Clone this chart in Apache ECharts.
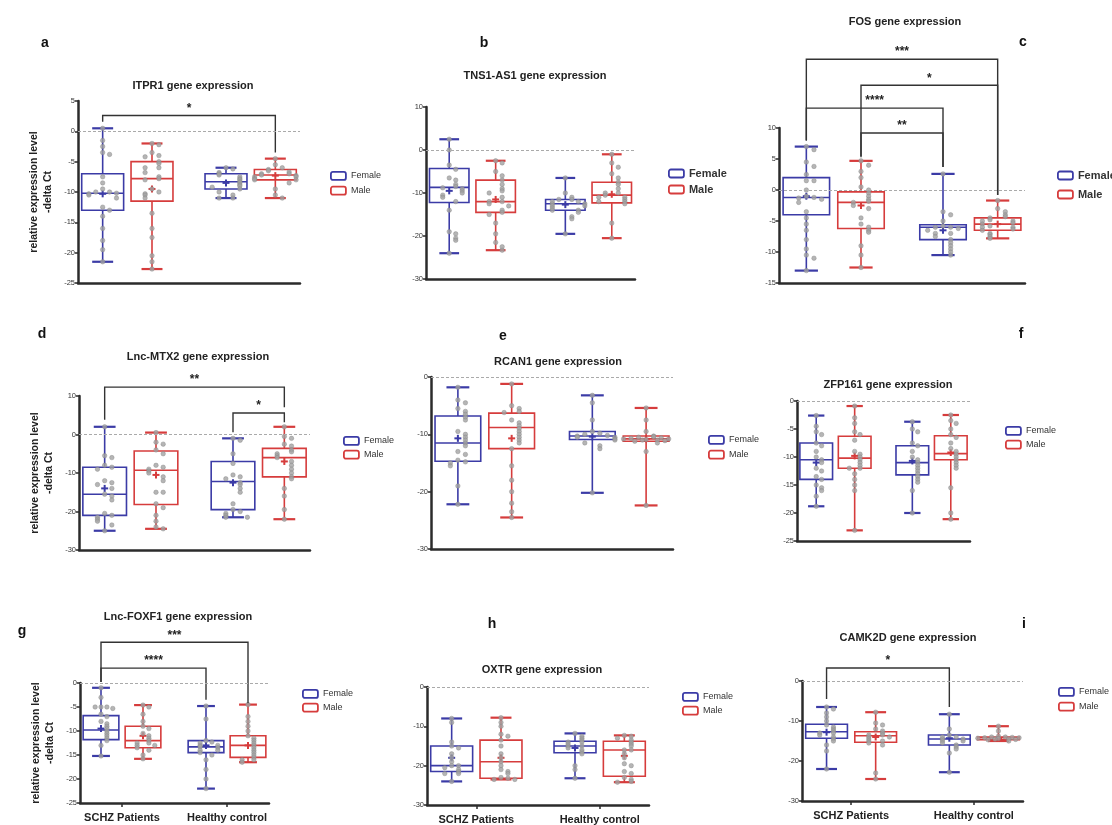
<!DOCTYPE html>
<html><head><meta charset="utf-8">
<script src="https://cdn.jsdelivr.net/npm/echarts@6/dist/echarts.min.js"></script>
<style>html,body{margin:0;padding:0;background:#fff}#c{width:1112px;height:825px}</style>
</head><body><div id="c"></div>
<script>
// ---------- DATA ----------
const groupNames = ['SCHZ Patients', 'Healthy control'];
const sexNames = ['Female', 'Male'];

// each box row: [min, q1, median, q3, max, mean]  order: F-SCHZ, M-SCHZ, F-HC, M-HC
const ITPR1_F_SCHZ = [0.5,-1.5,-2.5,-3.8,-3.5,-7.5,-8.5,-9.5,-10,-10.2,-10.3,-10.5,-10,-11,-12.5,-13,-14,-16,-18,-19.5,-21.5];
const ITPR1_M_SCHZ = [-2,-2.2,-3.5,-4,-4.2,-5,-5.3,-6,-6,-6.8,-7.5,-7.8,-8,-9.5,-10,-10.3,-10.5,-11,-13.5,-16,-17.5,-20.5,-21.5,-22.7];
const ITPR1_F_HC = [-6,-6.2,-6.8,-7,-7.2,-7.5,-7.8,-8,-8.3,-8.5,-8.8,-9,-9.2,-9.5,-10,-10.5,-11,-11];
const ITPR1_M_HC = [-4.5,-5.5,-6,-6.3,-6.5,-6.7,-7,-7,-7.2,-7.3,-7.5,-7.5,-7.8,-8,-8,-8.5,-9.5,-10.5,-11];
const ITPR1_box = [[-21.5,-13,-10.2,-7,0.5,-10.3],[-22.7,-11.5,-7.8,-5,-2,-9.5],[-11,-9.5,-8.3,-7,-6,-8.5],[-11,-8,-7.2,-6.3,-4.5,-7.3]];
const ITPR1_ticks = [-25, 5, 5];
const ITPR1_sig = [[0,3,2.6,1.6,-3.5]];
const ITPR1_sigLabels = ['*'];

const TNS1_F_SCHZ = [2.5,0,-3.5,-4.5,-6.5,-7,-8,-8.5,-8.8,-9,-9.5,-10,-10.5,-11,-12,-14,-19,-19.5,-20.5,-21,-24];
const TNS1_M_SCHZ = [-2.5,-3,-5,-6,-7,-8,-9,-9.5,-10,-11,-12,-12,-12.5,-13,-14,-14.5,-15,-17,-19.5,-21.5,-22.5,-23.3];
const TNS1_F_HC = [-6.5,-10,-11,-11.5,-11.5,-12,-12,-12.5,-12.5,-13,-13,-13.5,-14,-14,-14.5,-15.5,-16,-19.5];
const TNS1_M_HC = [-1,-3,-4,-5.5,-6.5,-7.5,-8,-9,-10,-10,-10.5,-11,-11,-11.5,-12,-12,-12.5,-17,-20.5];
const TNS1_box = [[-24,-12.2,-8.7,-4.3,2.5,-9.5],[-23.3,-14.5,-12,-7,-2.5,-11.5],[-19.5,-14,-12.5,-11.5,-6.5,-12.7],[-20.5,-12.3,-10.5,-7.5,-1,-10.3]];
const TNS1_ticks = [-30, 10, 10];
const TNS1_sig = [];
const TNS1_sigLabels = [];

const FOS_F_SCHZ = [7,6.5,4.5,3.8,2.5,1.5,1.5,0,-1,-1.2,-1.3,-1.5,-2,-3.5,-4.5,-5.5,-6.5,-8,-9.5,-10.5,-11,-13];
const FOS_M_SCHZ = [4.7,4,3,2,0.5,0,-0.5,-1,-1.5,-1.8,-2,-2.5,-3,-4.5,-5.5,-6,-6.5,-6.8,-9,-10.5,-12.5];
const FOS_F_HC = [2.6,-3.5,-4,-5,-5.8,-6,-6,-6.2,-6.5,-7,-7,-7.5,-8,-8.5,-9,-9.5,-10,-10.5];
const FOS_M_HC = [-1.7,-3,-3.5,-4,-4.3,-4.5,-4.8,-5,-5,-5.3,-5.5,-5.8,-6,-6,-6.3,-6.5,-7,-7.2,-7.5,-7.8];
const FOS_box = [[-13,-4,-1.2,2,7,-1],[-12.5,-6.2,-2,-0.3,4.7,-2.5],[-10.5,-8,-6,-5.6,2.6,-6.5],[-7.8,-6.5,-5.5,-4.5,-1.7,-5.5]];
const FOS_ticks = [-15, 10, 5];
const FOS_sig = [[0,3,21.1,8,-0.8],[1,3,16.9,5.5,-0.8],[0,2,13.2,8,3.7],[1,2,9.2,5.3,3.7]];
const FOS_sigLabels = ['***','*','****','**'];

const MTX2_F_SCHZ = [2,-5.5,-6,-8,-8.5,-9,-12,-12.5,-13,-14,-15.5,-16,-17,-20.5,-21,-21.5,-22,-22.5,-23.5,-25];
const MTX2_M_SCHZ = [0.5,-2,-2.5,-4,-5,-8,-8.5,-9,-9.5,-10,-11,-12,-15,-15,-18,-19,-21,-22.5,-24,-24.5];
const MTX2_F_HC = [-1,-1.5,-5,-7.5,-10.5,-11,-11.5,-12.5,-13,-14,-15,-18,-19.5,-20,-20.5,-21,-21.5,-21.5];
const MTX2_M_HC = [2,-0.5,-1,-2.5,-3,-4,-4.5,-5,-5.5,-6,-7,-8,-9,-10,-11,-11.5,-14,-16,-19.5,-22];
const MTX2_box = [[-25,-21,-15.5,-8.5,2,-14],[-24.5,-18.2,-9.3,-4.3,0.5,-10.5],[-21.5,-19.5,-12.2,-7,-1,-12.5],[-22,-11,-6,-3.6,2,-7]];
const MTX2_ticks = [-30, 10, 10];
const MTX2_sig = [[0,3,12.3,3.8,7.1],[2,3,5.6,0.6,3.2]];
const MTX2_sigLabels = ['**','*'];

const RCAN1_F_SCHZ = [-1.8,-4,-4.5,-5.5,-6,-6.5,-7,-7.5,-9.5,-10,-10.5,-11,-11.5,-12,-13,-13.5,-14.5,-14.8,-15,-15.5,-19,-22.2];
const RCAN1_M_SCHZ = [-1.2,-5,-5.5,-6,-6.2,-7.5,-8,-8.5,-9,-9.5,-10,-10.5,-11,-11.5,-12.5,-15.5,-18,-20,-22,-23.5,-24.5];
const RCAN1_F_HC = [-3.2,-4.5,-7.5,-9.5,-9.8,-10,-10.2,-10.3,-10.5,-10.5,-10.8,-11,-11.5,-12,-12.5,-20.2];
const RCAN1_M_HC = [-5.4,-7.5,-9.5,-10.3,-10.4,-10.5,-10.6,-10.7,-10.8,-10.8,-10.9,-11,-11,-11.1,-11.2,-11.5,-13,-22.4];
const RCAN1_box = [[-22.2,-14.7,-11.5,-6.8,-1.8,-10.7],[-24.5,-12.5,-8.8,-6.3,-1.2,-10.7],[-20.2,-10.9,-10.3,-9.5,-3.2,-10.4],[-22.4,-11.2,-10.8,-10.3,-5.4,-10.8]];
const RCAN1_ticks = [-30, 0, 10];
const RCAN1_sig = [];
const RCAN1_sigLabels = [];

const ZFP161_F_SCHZ = [-2.6,-4.5,-5.5,-6,-7.5,-8,-9,-10,-10.5,-11,-12,-12.5,-13.5,-14,-15,-15.5,-16,-17,-18.8];
const ZFP161_M_SCHZ = [-0.9,-3,-4,-5.5,-6,-7,-9,-9.5,-10,-10.5,-11,-11.5,-12,-12,-13,-14,-15,-16,-23.1];
const ZFP161_F_HC = [-3.7,-5,-5.5,-7.5,-8,-9,-10,-10.5,-11,-11.5,-12,-12.5,-13,-13.5,-14,-14.5,-16,-20];
const ZFP161_M_HC = [-2.5,-3.5,-4,-5,-6,-6.5,-7.5,-8.5,-9,-9.5,-10,-10.5,-11,-11.5,-12,-15.5,-20,-21.1];
const ZFP161_box = [[-18.8,-14,-10.5,-7.5,-2.6,-11],[-23.1,-12,-10.2,-6.3,-0.9,-9.8],[-20,-13.2,-11,-8,-3.7,-10.7],[-21.1,-10.5,-9.4,-6.2,-2.5,-9.2]];
const ZFP161_ticks = [-25, 0, 5];
const ZFP161_sig = [];
const ZFP161_sigLabels = [];

const FOXF1_F_SCHZ = [-1,-3,-5,-5,-5,-5.3,-6.5,-7,-8,-8.5,-9,-9.5,-10,-10.5,-11,-11.5,-12,-13,-15.2];
const FOXF1_M_SCHZ = [-4.6,-5,-6.5,-8,-9,-9.5,-10.5,-11,-11.5,-12,-12.5,-12.5,-13,-13,-13.5,-14,-15,-15.8];
const FOXF1_F_HC = [-4.8,-7.5,-12,-12.3,-12.5,-13,-13,-13.3,-13.5,-14,-14,-14.5,-15,-16,-18,-20,-22];
const FOXF1_M_HC = [-4.5,-7,-8,-9,-10,-11,-11.5,-12,-12.5,-13,-13.5,-14,-14.5,-15,-15.5,-16,-16,-16.5];
const FOXF1_box = [[-15.2,-11.8,-9.8,-6.8,-1,-9.5],[-15.8,-13.5,-12,-9,-4.6,-11],[-22,-14.5,-13.3,-12,-4.8,-13],[-16.5,-15.5,-13,-11,-4.5,-13]];
const FOXF1_ticks = [-25, 0, 5];
const FOXF1_sig = [[0,3,8.5,0.2,-4.2],[0,2,3.1,0.2,-3.5]];
const FOXF1_sigLabels = ['***','****'];

const OXTR_F_SCHZ = [-8,-9,-14,-15,-15.5,-17,-18,-19,-20,-20,-20.5,-21,-21.5,-22,-22,-24];
const OXTR_M_SCHZ = [-7.8,-9,-10,-12,-12.5,-13.5,-15,-17,-18,-19,-20,-21,-21.5,-22,-23,-23.2,-23.5,-23.5];
const OXTR_F_HC = [-11.8,-12.5,-13,-13.5,-14,-14,-14.5,-15,-15,-15.5,-16,-16.5,-17,-20,-21,-23.2];
const OXTR_M_HC = [-12.3,-12.5,-13,-13.5,-14,-14.5,-15,-16,-16,-17,-18,-19.5,-20,-21.5,-22,-23,-23.5,-24,-24.2];
const OXTR_box = [[-24,-21.5,-20,-15,-8,-18],[-23.5,-23.2,-19,-13.5,-7.8,-18],[-23.2,-16.7,-15,-13.8,-11.8,-15.5],[-24.2,-22.7,-16,-13.8,-12.3,-17.5]];
const OXTR_ticks = [-30, 0, 10];
const OXTR_sig = [];
const OXTR_sigLabels = [];

const CAMK2D_F_SCHZ = [-6.5,-7,-8,-9,-10,-11,-11.5,-12,-12.5,-13,-13,-13.5,-14,-14.5,-15,-16,-17.5,-22];
const CAMK2D_M_SCHZ = [-7.8,-10.5,-11,-12,-12.5,-13,-13.5,-13.5,-14,-14,-14.5,-15,-15,-15.5,-16,-23,-24.5];
const CAMK2D_F_HC = [-8.3,-12,-13.5,-14,-14,-14.5,-14.5,-15,-15,-15.5,-16,-16.5,-17,-18,-22.8];
const CAMK2D_M_HC = [-11.3,-12.5,-13.8,-14,-14,-14.1,-14.2,-14.2,-14.3,-14.4,-14.5,-14.5,-14.6,-14.7,-15];
const CAMK2D_box = [[-22,-14.3,-12.7,-10.8,-6.5,-12.8],[-24.5,-15.3,-13.7,-12.7,-7.8,-14],[-22.8,-16,-14.5,-13.5,-8.3,-14.3],[-15,-14.7,-14.2,-14,-11.3,-14.3]];
const CAMK2D_ticks = [-30, 0, 10];
const CAMK2D_sig = [[0,2,3.25,-4.5,-6.5]];
const CAMK2D_sigLabels = ['*'];

const titles = ['ITPR1 gene expression','TNS1-AS1 gene expression','FOS gene expression','Lnc-MTX2 gene expression','RCAN1 gene expression','ZFP161 gene expression','Lnc-FOXF1 gene expression','OXTR gene expression','CAMK2D gene expression'];
const letters = ['a','b','c','d','e','f','g','h','i'];
const yName = 'relative expression level\n-delta Ct';

const panels = [
  {pts:[ITPR1_F_SCHZ,ITPR1_M_SCHZ,ITPR1_F_HC,ITPR1_M_HC], box:ITPR1_box, ticks:ITPR1_ticks, sig:ITPR1_sig, sigL:ITPR1_sigLabels},
  {pts:[TNS1_F_SCHZ,TNS1_M_SCHZ,TNS1_F_HC,TNS1_M_HC], box:TNS1_box, ticks:TNS1_ticks, sig:TNS1_sig, sigL:TNS1_sigLabels},
  {pts:[FOS_F_SCHZ,FOS_M_SCHZ,FOS_F_HC,FOS_M_HC], box:FOS_box, ticks:FOS_ticks, sig:FOS_sig, sigL:FOS_sigLabels},
  {pts:[MTX2_F_SCHZ,MTX2_M_SCHZ,MTX2_F_HC,MTX2_M_HC], box:MTX2_box, ticks:MTX2_ticks, sig:MTX2_sig, sigL:MTX2_sigLabels},
  {pts:[RCAN1_F_SCHZ,RCAN1_M_SCHZ,RCAN1_F_HC,RCAN1_M_HC], box:RCAN1_box, ticks:RCAN1_ticks, sig:RCAN1_sig, sigL:RCAN1_sigLabels},
  {pts:[ZFP161_F_SCHZ,ZFP161_M_SCHZ,ZFP161_F_HC,ZFP161_M_HC], box:ZFP161_box, ticks:ZFP161_ticks, sig:ZFP161_sig, sigL:ZFP161_sigLabels},
  {pts:[FOXF1_F_SCHZ,FOXF1_M_SCHZ,FOXF1_F_HC,FOXF1_M_HC], box:FOXF1_box, ticks:FOXF1_ticks, sig:FOXF1_sig, sigL:FOXF1_sigLabels},
  {pts:[OXTR_F_SCHZ,OXTR_M_SCHZ,OXTR_F_HC,OXTR_M_HC], box:OXTR_box, ticks:OXTR_ticks, sig:OXTR_sig, sigL:OXTR_sigLabels},
  {pts:[CAMK2D_F_SCHZ,CAMK2D_M_SCHZ,CAMK2D_F_HC,CAMK2D_M_HC], box:CAMK2D_box, ticks:CAMK2D_ticks, sig:CAMK2D_sig, sigL:CAMK2D_sigLabels}
];

// ---------- LAYOUT ----------
const FONT = 'Liberation Sans, Arial, sans-serif';
const BLUE = '#3b3ba6';
const RED = '#d63c3c';
const AXIS = '#2b2b2b';
const SLOTS = [1, 3, 6, 8];      // x positions of the four boxes on a 0..9 axis
const BOXW = 1.7;
const layout = [
  {grid:[78,101,222,182], title:[188,82], letter:[40,40], legend:[325,166,5], bold:false, yl:true, xl:false},
  {grid:[426,107,209,172], title:[530,72], letter:[479,40], legend:[663,163,5], bold:true, yl:false, xl:false},
  {grid:[779,128,246,155], title:[900,18], letter:[1018,39], legend:[1052,165,8], bold:true, yl:false, xl:false},
  {grid:[79,396,231,154], title:[193,353], letter:[37,331], legend:[338,431,4], bold:false, yl:true, xl:false},
  {grid:[431,377,242,172], title:[553,358], letter:[498,333], legend:[703,430,5], bold:false, yl:false, xl:false},
  {grid:[797,401,173,140], title:[883,381], letter:[1016,331], legend:[1000,421,4], bold:false, yl:false, xl:false},
  {grid:[80,683,189,120], title:[173,613], letter:[17,628], legend:[297,684,4], bold:false, yl:true, xl:true},
  {grid:[427,687,222,119], title:[537,666], letter:[487,621], legend:[677,687,4], bold:false, yl:false, xl:true},
  {grid:[802,681,221,120], title:[903,634], letter:[1019,621], legend:[1053,682,5], bold:false, yl:false, xl:true}
];

// horizontal spreading of near-equal values (layout only, values untouched)
function swarm(vals, slot, range) {
  const thr = range * 0.03, step = 0.28, perRow = 7;
  const placed = [], out = [];
  const sorted = vals.slice().sort((a, b) => b - a);
  for (const v of sorted) {
    let k = 0;
    for (const p of placed) if (Math.abs(p - v) < thr) k++;
    placed.push(v);
    const kk = k % perRow;
    const off = kk === 0 ? 0 : (kk % 2 ? 1 : -1) * Math.ceil(kk / 2) * step + (k >= perRow ? step / 2 : 0);
    out.push([slot + off, v]);
  }
  return out;
}

function boxRender(color) {
  return function (params, api) {
    const x = api.value(0);
    const c = k => api.coord([x, api.value(k)]);
    const pMin = c(1), pQ1 = c(2), pMd = c(3), pQ3 = c(4), pMx = c(5), pMean = c(6);
    const hw = api.size([BOXW, 0])[0] / 2;
    const cx = pMin[0];
    const cap = hw * 0.5;
    const st = {stroke: color, lineWidth: 1.6, fill: 'rgba(0,0,0,0)'};
    const L = (x1, y1, x2, y2, w) => ({type: 'line', shape: {x1, y1, x2, y2}, style: Object.assign({}, st, w ? {lineWidth: w} : {})});
    return {type: 'group', children: [
      L(cx, pMx[1], cx, pQ3[1]),
      L(cx, pQ1[1], cx, pMin[1]),
      L(cx - cap, pMx[1], cx + cap, pMx[1], 2.2),
      L(cx - cap, pMin[1], cx + cap, pMin[1], 2.2),
      {type: 'rect', shape: {x: cx - hw, y: pQ3[1], width: 2 * hw, height: pQ1[1] - pQ3[1]}, style: st},
      L(cx - hw, pMd[1], cx + hw, pMd[1]),
      L(cx - 3.5, pMean[1], cx + 3.5, pMean[1], 2),
      L(cx, pMean[1] - 3.5, cx, pMean[1] + 3.5, 2)
    ]};
  };
}

function sigRender(labels) {
  return function (params, api) {
    const x1 = api.value(0), x2 = api.value(1), top = api.value(2), le = api.value(3), re = api.value(4);
    const a = api.coord([x1, le]), b = api.coord([x1, top]), c = api.coord([x2, top]), d = api.coord([x2, re]);
    return {type: 'group', children: [
      {type: 'polyline', shape: {points: [a, b, c, d]}, style: {stroke: '#333', lineWidth: 1.4, fill: 'rgba(0,0,0,0)'}},
      {type: 'text', style: {text: labels[params.dataIndex], x: (b[0] + c[0]) / 2, y: b[1] - 1, textAlign: 'center', textVerticalAlign: 'bottom', font: 'bold 12px ' + FONT, fill: '#222'}}
    ]};
  };
}

const option = {
  animation: false,
  backgroundColor: '#fff',
  title: [], grid: [], xAxis: [], yAxis: [], legend: [], series: []
};

panels.forEach((p, i) => {
  const L = layout[i];
  const [gl, gt, gw, gh] = L.grid;
  const [ymin, ymax, step] = p.ticks;
  option.grid.push({left: gl, top: gt, width: gw, height: gh, containLabel: false});
  option.title.push({text: titles[i], left: L.title[0], top: L.title[1] - 7, textAlign: 'center',
    textStyle: {fontFamily: FONT, fontSize: 11, fontWeight: 'bold', color: '#222'}});
  option.title.push({text: letters[i], left: L.letter[0], top: L.letter[1] - 9, textAlign: 'center',
    textStyle: {fontFamily: FONT, fontSize: 14, fontWeight: 'bold', color: '#111'}});
  option.xAxis.push({
    gridIndex: i, type: 'value', min: 0, max: 9,
    axisLine: {show: true, onZero: false, lineStyle: {color: AXIS, width: 2.5}},
    axisTick: {show: L.xl, customValues: [2, 7], length: 4, lineStyle: {color: AXIS, width: 1.5}},
    axisLabel: {show: L.xl, customValues: [2, 7], formatter: v => v < 4.5 ? groupNames[0] : groupNames[1],
      fontFamily: FONT, fontSize: 11, fontWeight: 'bold', color: '#222', margin: 9},
    splitLine: {show: false}
  });
  option.yAxis.push({
    gridIndex: i, type: 'value', min: ymin, max: ymax, interval: step,
    name: L.yl ? yName : '', nameLocation: 'middle', nameGap: 23, nameRotate: 90,
    nameTextStyle: {fontFamily: FONT, fontSize: 10.5, fontWeight: 'bold', color: '#222', lineHeight: 14},
    axisLine: {show: true, onZero: false, lineStyle: {color: AXIS, width: 2.5}},
    axisTick: {show: true, length: 3, lineStyle: {color: AXIS, width: 1.5}},
    axisLabel: {fontFamily: FONT, fontSize: 7.5, color: '#333', margin: 3},
    splitLine: {show: false}
  });
  const fs = L.bold ? 11 : 9;
  option.legend.push({
    orient: 'vertical', left: L.legend[0], top: L.legend[1], itemGap: L.legend[2],
    itemWidth: 15, itemHeight: 8, selectedMode: false, icon: 'roundRect',
    textStyle: {fontFamily: FONT, fontSize: fs, fontWeight: L.bold ? 'bold' : 'normal', color: '#333'},
    data: [
      {name: 'Female', itemStyle: {color: '#fff', borderColor: BLUE, borderWidth: 1.8}},
      {name: 'Male', itemStyle: {color: '#fff', borderColor: RED, borderWidth: 1.8}}
    ]
  });
  const boxData = p.box.map((b, k) => [SLOTS[k]].concat(b));
  option.series.push({
    name: 'Female', type: 'custom', xAxisIndex: i, yAxisIndex: i, color: BLUE,
    renderItem: boxRender(BLUE), data: [boxData[0], boxData[2]], z: 2, silent: true
  });
  option.series.push({
    name: 'Male', type: 'custom', xAxisIndex: i, yAxisIndex: i, color: RED,
    renderItem: boxRender(RED), data: [boxData[1], boxData[3]], z: 2, silent: true
  });
  let pts = [];
  p.pts.forEach((vals, k) => { pts = pts.concat(swarm(vals, SLOTS[k], ymax - ymin)); });
  option.series.push({
    name: 'points', type: 'scatter', xAxisIndex: i, yAxisIndex: i, data: pts, z: 3, silent: true,
    symbol: 'circle', symbolSize: 4.5,
    itemStyle: {color: '#a3a3a3', borderColor: '#858585', borderWidth: 0.5},
    markLine: {silent: true, symbol: 'none', label: {show: false}, animation: false,
      lineStyle: {color: '#aaa', type: [3, 2], width: 1}, data: [{yAxis: 0}]}
  });
  if (p.sig.length) {
    option.series.push({
      name: 'sig', type: 'custom', xAxisIndex: i, yAxisIndex: i, clip: false, silent: true, z: 4,
      renderItem: sigRender(p.sigL),
      data: p.sig.map(s => [SLOTS[s[0]], SLOTS[s[1]], s[2], s[3], s[4]]),
      encode: {x: [0, 1], y: [2, 3, 4]}
    });
  }
});

const chart = echarts.init(document.getElementById('c'), null, {renderer: 'canvas'});
chart.setOption(option);
</script>
</body></html>
